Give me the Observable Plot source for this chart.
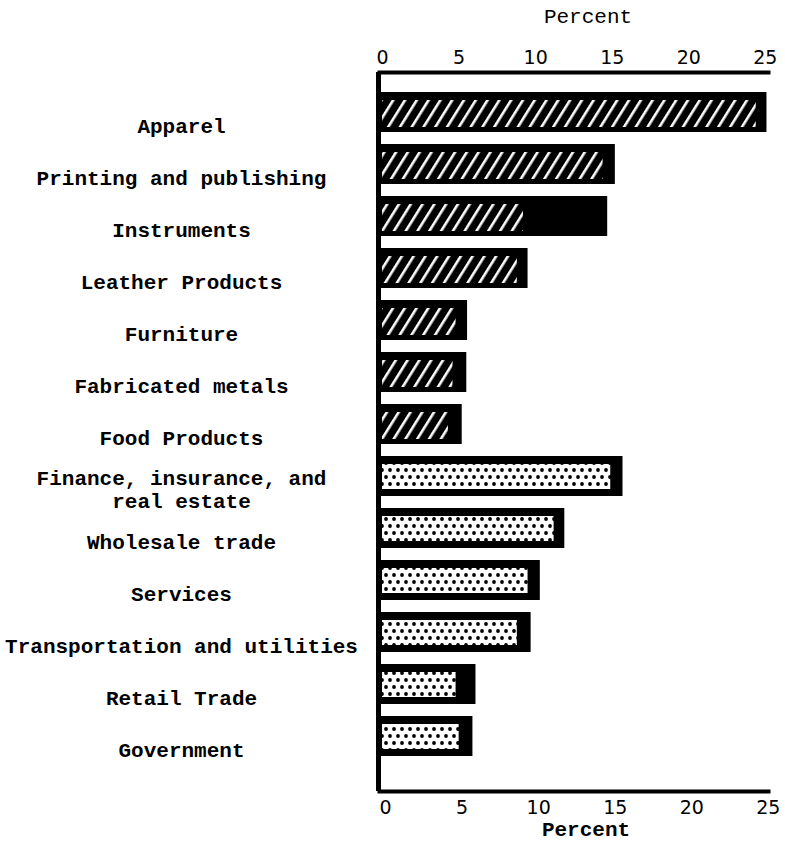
<!DOCTYPE html>
<html>
<head>
<meta charset="utf-8">
<script src="https://cdn.jsdelivr.net/npm/d3@7"></script>
<script src="https://cdn.jsdelivr.net/npm/@observablehq/plot@0.6"></script>
<style>
  html, body { margin: 0; padding: 0; background: #fff; }
  #wrap { width: 785px; height: 843px; position: relative; overflow: hidden; }
  .ptitle { font-family: "Liberation Mono", monospace; font-size: 21px; color: #000; position: relative; }
  #top { height: 40px; }
  #top span { position: absolute; left: 588px; top: 6px; transform: translateX(-50%); }
  #bottom { height: 23px; }
  #bottom span { position: absolute; left: 586px; top: -1px; transform: translateX(-50%); font-weight: bold; }
</style>
</head>
<body>
<div id="wrap">
  <div id="top" class="ptitle"><span>Percent</span></div>
  <div id="chart"></div>
  <div id="bottom" class="ptitle"><span>Percent</span></div>
</div>
<script>
const categories = [
  "Apparel",
  "Printing and publishing",
  "Instruments",
  "Leather Products",
  "Furniture",
  "Fabricated metals",
  "Food Products",
  "Finance, insurance, and\nreal estate",
  "Wholesale trade",
  "Services",
  "Transportation and utilities",
  "Retail Trade",
  "Government"
];
const groups = [
  "manufacturing", "manufacturing", "manufacturing", "manufacturing",
  "manufacturing", "manufacturing", "manufacturing",
  "nonmanufacturing", "nonmanufacturing", "nonmanufacturing",
  "nonmanufacturing", "nonmanufacturing", "nonmanufacturing"
];
// full bar length (black, with shadow) and patterned part, in percent
const totalValues    = [25.3, 15.4, 14.9, 9.7, 5.75, 5.7, 5.4, 15.9, 12.1, 10.5, 9.9, 6.3, 6.1];
const patternValues  = [24.6, 14.6, 9.4, 9.0, 5.0, 4.8, 4.5, 15.1, 11.4, 9.7, 9.0, 5.0, 5.2];
const xTicks = [0, 5, 10, 15, 20, 25];

const data = categories.map((c, i) => ({
  category: c, group: groups[i], total: totalValues[i], patterned: patternValues[i]
}));
const manuf = data.filter(d => d.group === "manufacturing");
const nonManuf = data.filter(d => d.group === "nonmanufacturing");

const labelFont = {fontFamily: "Liberation Mono, monospace", fontWeight: "bold", fontSize: 21, lineHeight: 1.1};
const tickFont = {fontFamily: "DejaVu Sans, sans-serif", fontSize: 19};

const chart = Plot.plot({
  width: 785,
  height: 780,
  marginLeft: 379,
  marginRight: 17,
  marginTop: 32,
  marginBottom: 29,
  style: {background: "white", color: "black", overflow: "visible"},
  x: {domain: [0, 25.4]},
  y: {type: "band", domain: categories, range: [50, 717], paddingInner: 0.234, paddingOuter: 0},
  marks: [
    Plot.barX(data, {x: "total", y: "category", fill: "black"}),
    Plot.barX(manuf, {x: "patterned", y: "category", fill: "url(#hatch)", insetLeft: 3, insetTop: 8, insetBottom: 5}),
    Plot.barX(nonManuf, {x: "patterned", y: "category", fill: "url(#dots)", insetLeft: 3, insetTop: 8, insetBottom: 7}),
    Plot.ruleX([0], {stroke: "black", strokeWidth: 5, dx: -1}),
    Plot.frame({anchor: "top", stroke: "black", strokeWidth: 4}),
    Plot.frame({anchor: "bottom", stroke: "black", strokeWidth: 4}),
    Plot.axisX({anchor: "top", ticks: xTicks, tickSize: 0, tickPadding: 9, label: null, dx: 3, ...tickFont}),
    Plot.axisX({anchor: "bottom", ticks: xTicks, tickSize: 0, tickPadding: 9, label: null, dx: 6, ...tickFont}),
    Plot.axisY({anchor: "left", tickSize: 0, tickPadding: 0, textAnchor: "middle", dx: -198, dy: 13, label: null, ...labelFont})
  ]
});

// pattern definitions used by the fills above
const svg = d3.select(chart.tagName.toLowerCase() === "svg" ? chart : chart.querySelector("svg"));
const defs = svg.insert("defs", ":first-child");
const hatch = defs.append("pattern")
  .attr("id", "hatch").attr("patternUnits", "userSpaceOnUse")
  .attr("width", 10).attr("height", 10)
  .attr("patternTransform", "rotate(32)");
hatch.append("rect").attr("width", 10).attr("height", 10).attr("fill", "black");
hatch.append("rect").attr("x", 4).attr("width", 2.6).attr("height", 10).attr("fill", "white");
const dots = defs.append("pattern")
  .attr("id", "dots").attr("patternUnits", "userSpaceOnUse")
  .attr("width", 8).attr("height", 14);
dots.append("rect").attr("width", 8).attr("height", 14).attr("fill", "white");
dots.append("circle").attr("cx", 2).attr("cy", 3).attr("r", 1.9).attr("fill", "black");
dots.append("circle").attr("cx", 6).attr("cy", 10).attr("r", 1.9).attr("fill", "black");

document.getElementById("chart").appendChild(chart);
</script>
</body>
</html>
